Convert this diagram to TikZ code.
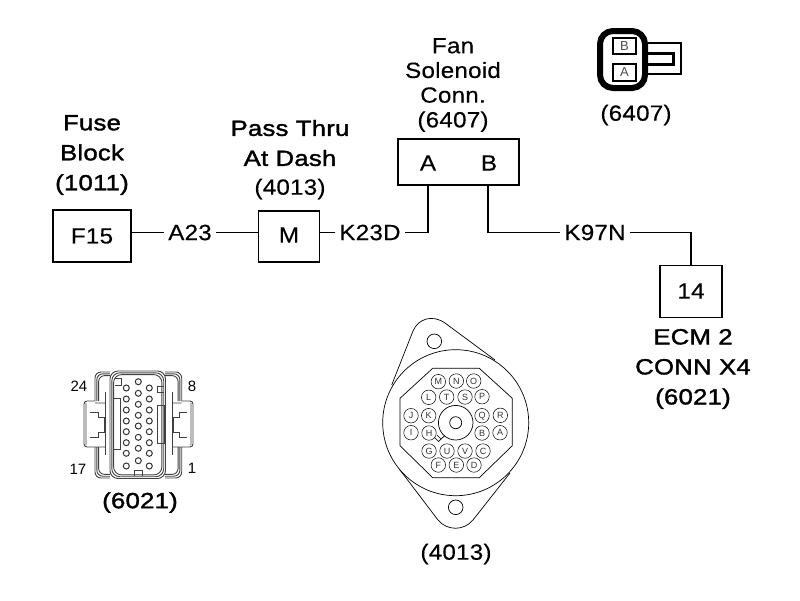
\documentclass[tikz,border=0pt]{standalone}
\usepackage{fontspec}
\setmainfont{Liberation Sans}
\newfontfamily\reg[FakeBold=.35,FakeStretch=1.1,LetterSpace=1]{Liberation Sans}
\newfontfamily\bld[FakeBold=1.6,FakeStretch=1.17,LetterSpace=1]{Liberation Sans}
\tikzset{
  box/.style={draw,line width=1.6pt,minimum width=#1,inner sep=0pt,font=\fontsize{22}{22}\reg},
  lab/.style={inner sep=0pt,align=center,font=\fontsize{22}{24.7}\reg},
  blab/.style={inner sep=0pt,align=center,font=\fontsize{22}{30}\bld},
  wirelab/.style={inner xsep=4pt,inner ysep=1pt,font=\fontsize{22}{22}\reg},
  wire/.style={line width=1.6pt},
  pin/.style={circle,draw,line width=.5pt,minimum size=14.5pt,inner sep=0pt,font=\fontsize{9}{9}\selectfont,text=black!80},
  thin/.style={line width=.7pt},
  grayl/.style={line width=.9pt,draw=black!75},
  num/.style={inner sep=0pt,font=\fontsize{15}{15}\selectfont},
  hole/.style={circle,draw,line width=.7pt,inner sep=0pt},
  pinhole/.style={circle,draw,line width=1pt,inner sep=0pt,minimum size=6pt,draw=black!80},
  iconbox/.style={draw,line width=2pt,minimum width=23pt,inner sep=0pt,font=\fontsize{13}{13}\selectfont,text=black!70}
}
\begin{document}
\begin{tikzpicture}[x=1pt,y=-1pt]
\useasboundingbox (0,0) rectangle (800,600);
% labels
\node[blab] (fuse) at (92,155) {Fuse\\Block\\(1011)};
\node[blab] (pass) at (290,143) {Pass Thru\\At Dash};
\node[lab] (p4013) at (290,189) {(4013)};
\node[lab] (fan) at (453,85) {Fan\\Solenoid\\Conn.\\(6407)};
\node[lab] (p6407) at (636,115) {(6407)};
\node[blab] (ecm) at (693,369) {ECM 2\\CONN X4\\(6021)};
\node[blab] (p6021) at (140,502.5) {(6021)};
\node[lab] (q4013) at (456,554) {(4013)};
% boxes
\node[box=78pt,minimum height=52pt] (f15) at (92,236) {F15};
\node[box=61pt,minimum height=51pt] (m) at (289,236.5) {\raisebox{3pt}{M}};
\node[box=121pt,minimum height=46pt] (conn) at (458.5,162) {};
\node[inner sep=0pt,font=\fontsize{22}{22}\reg] (a) at (428,163) {A};
\node[inner sep=0pt,font=\fontsize{22}{22}\reg] (b) at (489,163) {B};
\coordinate (ca) at (428,185);
\coordinate (cb) at (488,185);
\node[box=62pt,minimum height=52pt] (e14) at (691,291.5) {\raisebox{1pt}{14}};
% wire labels
\node[wirelab] (a23) at (190,232.5) {A23};
\node[wirelab] (k23) at (370,232.5) {K23D};
\node[wirelab] (k97) at (595,232.5) {K97N};
\draw[wire] (f15.east |- a23) -- (a23);
\draw[wire] (a23) -- (m.west |- a23);
\draw[wire] (m.east |- k23) -- (k23);
\draw[wire] (k23) -| (ca);
\draw[wire] (cb) |- (k97);
\draw[wire] (k97) -| (e14.north);
% 6407 icon
\draw[line width=6pt,rounded corners=13pt] (600,31) rectangle (645,88);
\node[iconbox,minimum height=16pt] (ib) at (624.5,46) {B};
\node[iconbox,minimum height=17pt] (ia) at (624.5,72.5) {A};
\draw[line width=2pt] (648,42.5) -- (680.5,42.5) -- (680.5,73.5) -- (648,73.5);
\draw[line width=2.5pt] (648,53.5) -- (673.5,53.5) -- (673.5,64.5) -- (648,64.5);
% 4013 connector
\draw[thin] (455.7,422.7) circle (73);
\draw[thin] (391.7,385) -- (413,331) .. controls (418,319) and (432,314) .. (445,323) -- (495,360);
\draw[thin] (400,470) -- (438,520) .. controls (447,531) and (464,531) .. (473,520) -- (510,473);
\draw[thin] (432.7,368.3) -- (479.3,368.3) -- (512.3,398.3) -- (512.3,445.7) -- (479.3,477.7) -- (432.7,477.7) -- (400,445.7) -- (400,398.3) -- cycle;
\node[hole,minimum size=14.6pt] (h1) at (434.3,341.3) {};
\node[hole,minimum size=14.6pt] (h2) at (455.7,507.3) {};
\draw[thin] (455.7,422.7) circle (17.3);
\draw[thin] (455.7,422.7) circle (6);
\draw[thin] (437,435) -- (441,439) -- (445,435.5) (434.5,437.5) -- (438.5,441.5) -- (441,439);
\foreach \t/\x/\y in {M/438.3/381.7,N/456.3/381,O/473.7/381,L/428.7/397.3,T/446.7/397,S/465/397,P/482/396.7,J/411/415.7,K/428.7/415.7,Q/482/415.7,R/500.3/415.3,I/411/432.7,H/429/433,B/482/433,A/500/432.7,G/429/451,U/447/451,V/465/451,C/483/451,F/438.3/465,E/456.3/465,D/474/465}
  \node[pin] (pin\t) at (\x,\y) {\t};
% 6021 connector
\foreach \d in {0,1.8,3.6}{
  \draw[grayl,rounded corners=6pt] (95+\d,401) -- (95+\d,372+\d) -- (110,372+\d);
  \draw[grayl,rounded corners=6pt] (181.7-\d,401) -- (181.7-\d,372+\d) -- (165,372+\d);
  \draw[grayl,rounded corners=6pt] (95+\d,447) -- (95+\d,478-\d) -- (110,478-\d);
  \draw[grayl,rounded corners=6pt] (181.7-\d,447) -- (181.7-\d,478-\d) -- (165,478-\d);
  \draw[grayl,rounded corners=8pt] (110+\d,371+\d) rectangle (165.5-\d,478.5-\d);
}
\draw[grayl,rounded corners=3pt] (95,401) -- (84,401) -- (84,447) -- (105,447) (86,403) -- (86,445) (95,403) -- (105,403);
\draw[grayl,rounded corners=3pt] (181.7,401) -- (193,401) -- (193,447) -- (172,447) (191,403) -- (191,445) (181.7,403) -- (172,403);
\draw[grayl] (90,412) -- (98,412) -- (98,417) -- (104,417) -- (104,432) -- (98,432) -- (98,437) -- (90,437);
\draw[grayl] (187,412) -- (179,412) -- (179,417) -- (173,417) -- (173,432) -- (179,432) -- (179,437) -- (187,437);
\draw[grayl] (105,392) -- (105,455) (172,392) -- (172,455);
\draw[grayl] (120,398) -- (113,398) -- (113,449) -- (120,449) -- cycle;
\draw[grayl] (157,405) -- (164,405) -- (164,443) -- (157,443) -- cycle;
\draw[grayl] (115,378) -- (121,378) -- (121,385) -- (115,385);
\draw[grayl] (157,386) -- (164,386) (157,386) -- (157,392) -- (164,392);
\draw[grayl] (134,476) -- (134,470) -- (142,470) -- (142,476);
\foreach \y[count=\i] in {388,399,410,421,431.7,442.7,453.3,466}{
  \node[pinhole] (pl\i) at (126.3,\y) {};
  \node[pinhole] (pr\i) at (149.3,\y) {};
}
\foreach \y[count=\i] in {381.7,393.3,404.3,415.3,426,437.3,448.3,460.7}
  \node[pinhole] (pc\i) at (138.3,\y) {};
\node[num] (n24) at (79,386) {24};
\node[num] (n8) at (192,386) {8};
\node[num] (n17) at (78,469) {17};
\node[num] (n1) at (192,468) {1};
\end{tikzpicture}
\end{document}
